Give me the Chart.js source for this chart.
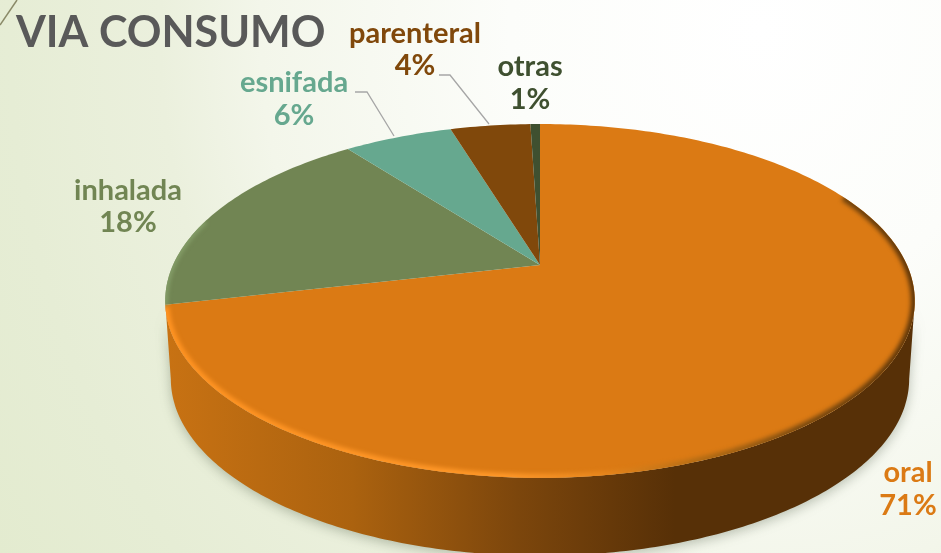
<!DOCTYPE html>
<html>
<head>
<meta charset="utf-8">
<script src="https://cdn.jsdelivr.net/npm/chart.js@4/dist/chart.umd.min.js"></script>
<style>
    html, body { margin: 0; padding: 0; }
    body {
        width: 941px;
        height: 553px;
        overflow: hidden;
        background: radial-gradient(ellipse 1000px 1100px at 760px 30px, #ffffff 0%, #fcfdfa 25%, #f3f6ea 50%, #ebf0dd 60%, #e6edd5 75%, #e3ebcf 90%, #e1e9cc 100%);
    }
    canvas { display: block; }
</style>
</head>
<body>
<canvas id="viaChart" width="941" height="553"></canvas>
<script>
const categories = ['oral', 'inhalada', 'esnifada', 'parenteral', 'otras'];
const values = [71.4, 18.2, 5.7, 4.2, 0.5];
const percentLabels = ['71%', '18%', '6%', '4%', '1%'];
const sliceColors = ['#db7a14', '#718553', '#66a88f', '#80480b', '#3f5030'];

// where the tilted pie sits on the page (p = perspective strength)
const view = { cx: 540, cy: 265, sx: 367, sy: 169.6, p: 0.203, depth: 78, shrink: 0.985 };

const labelSpots = [
    { x: 908, y1: 482, y2: 515 },
    { x: 128, y1: 200, y2: 232 },
    { x: 294, y1: 92, y2: 125 },
    { x: 415, y1: 43, y2: 75 },
    { x: 530, y1: 76, y2: 109 }
];
const leaderLines = [
    [[355, 92], [367, 92], [394, 136]],
    [[439, 75], [450, 75], [489, 124]]
];

function tilt(u, v) {
    const w = 1 - view.p * v;
    return [view.cx + view.sx * u / w, view.cy + view.sy * v / w];
}

function horizontalGradient(ctx, stops) {
    const g = ctx.createLinearGradient(165, 0, 915, 0);
    stops.forEach(s => g.addColorStop(s[0], s[1]));
    return g;
}

function rimPath(ctx, from, to, r) {
    ctx.beginPath();
    for (let i = 0; i <= 200; i++) {
        const a = from + (to - from) * i / 200;
        const pt = tilt(r * Math.cos(a), r * Math.sin(a));
        ctx.lineTo(pt[0], pt[1]);
    }
}

const tiltedPie = {
    id: 'tiltedPie',
    beforeDatasetsDraw(chart) {
        const ctx = chart.ctx;
        const el = chart.getDatasetMeta(0).data[0];

        // front wall of the pie
        const from = Math.PI - Math.asin(view.p);
        const to = Math.asin(view.p);
        ctx.save();
        ctx.beginPath();
        for (let i = 0; i <= 200; i++) {
            const a = from + (to - from) * i / 200;
            const pt = tilt(Math.cos(a), Math.sin(a));
            ctx.lineTo(pt[0], pt[1]);
        }
        for (let i = 200; i >= 0; i--) {
            const a = from + (to - from) * i / 200;
            const pt = tilt(Math.cos(a), Math.sin(a));
            ctx.lineTo(view.cx + (pt[0] - view.cx) * view.shrink, pt[1] + view.depth);
        }
        ctx.closePath();
        ctx.shadowColor = 'rgba(70, 85, 60, 0.35)';
        ctx.shadowBlur = 12;
        ctx.shadowOffsetY = 3;
        ctx.fillStyle = horizontalGradient(ctx, [
            [0, '#c87213'], [0.25, '#ab620f'], [0.47, '#7c460c'], [0.68, '#573007'], [1, '#573007']
        ]);
        ctx.fill();
        ctx.restore();

        // arcs are drawn by Chart.js, only their path goes through the tilt
        const proto = CanvasRenderingContext2D.prototype;
        ctx.lineTo = function (x, y) {
            const pt = tilt((x - el.x) / el.outerRadius, (y - el.y) / el.outerRadius);
            proto.lineTo.call(ctx, pt[0], pt[1]);
        };
        ctx.moveTo = function (x, y) {
            const pt = tilt((x - el.x) / el.outerRadius, (y - el.y) / el.outerRadius);
            proto.moveTo.call(ctx, pt[0], pt[1]);
        };
        ctx.arc = function (x, y, r, a0, a1) {
            const n = Math.max(2, Math.ceil(Math.abs(a1 - a0) * 60));
            for (let i = 0; i <= n; i++) {
                const a = a0 + (a1 - a0) * i / n;
                ctx.lineTo(x + r * Math.cos(a), y + r * Math.sin(a));
            }
        };
    },
    afterDatasetsDraw(chart) {
        const ctx = chart.ctx;
        delete ctx.lineTo;
        delete ctx.moveTo;
        delete ctx.arc;

        const meta = chart.getDatasetMeta(0).data;

        // soft bevel on the inside of the lower rim
        ctx.save();
        rimPath(ctx, 0, Math.PI * 2, 1);
        ctx.clip();
        ctx.filter = 'blur(2px)';
        ctx.lineWidth = 8;
        rimPath(ctx, -0.45, meta[0].endAngle - 0.01, 1);
        ctx.strokeStyle = horizontalGradient(ctx, [
            [0, '#ff9322'], [0.45, '#ff9829'], [0.58, '#e8871d'], [0.72, '#b06a14'], [0.85, '#7a4a10'], [1, '#5e3609']
        ]);
        ctx.stroke();
        ctx.lineWidth = 5;
        rimPath(ctx, meta[1].startAngle, meta[1].startAngle + 0.5, 1);
        ctx.strokeStyle = '#86a06a';
        ctx.stroke();
        ctx.restore();

        // leader lines
        ctx.save();
        ctx.strokeStyle = '#a6a6a6';
        ctx.lineWidth = 1.3;
        leaderLines.forEach(line => {
            ctx.beginPath();
            line.forEach(p => ctx.lineTo(p[0], p[1]));
            ctx.stroke();
        });

        // corner stroke of the slide
        ctx.strokeStyle = '#8a8a68';
        ctx.lineWidth = 1.5;
        ctx.beginPath();
        ctx.moveTo(0, 25);
        ctx.lineTo(17, 0);
        ctx.stroke();

        // data labels
        ctx.font = 'bold 29px Lato';
        ctx.textAlign = 'center';
        ctx.textBaseline = 'alphabetic';
        categories.forEach((name, i) => {
            ctx.fillStyle = sliceColors[i];
            ctx.fillText(name, labelSpots[i].x, labelSpots[i].y1);
            ctx.fillText(percentLabels[i], labelSpots[i].x, labelSpots[i].y2);
        });
        ctx.restore();
    }
};

new Chart(document.getElementById('viaChart').getContext('2d'), {
    type: 'pie',
    data: {
        labels: categories,
        datasets: [{
            data: values,
            backgroundColor: sliceColors,
            borderWidth: 0
        }]
    },
    options: {
        responsive: false,
        animation: false,
        rotation: 0,
        layout: {
            padding: { left: 16 }
        },
        plugins: {
            legend: { display: false },
            tooltip: { enabled: false },
            title: {
                display: true,
                text: 'VIA CONSUMO',
                align: 'start',
                color: '#595959',
                font: { family: 'Lato', size: 43, weight: 'bold' },
                padding: { top: 7, bottom: 4 }
            }
        }
    },
    plugins: [tiltedPie]
});
</script>
</body>
</html>
